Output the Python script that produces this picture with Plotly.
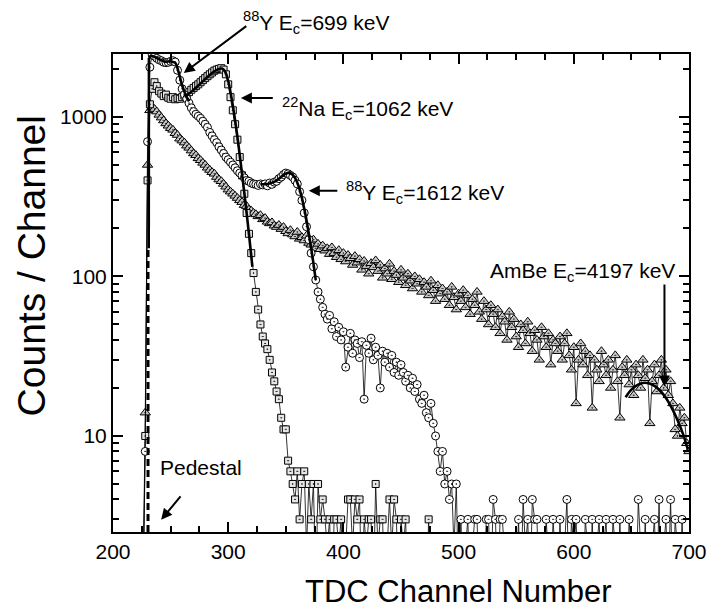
import math
import plotly.graph_objects as go

# ---------------- data ----------------
channels = list(range(226, 702, 2))

y88_counts = [
    1, 8, 700, 2050, 2450, 2400, 2330, 2280, 2250, 2200,
    2190, 2200, 2230, 2250, 2210, 1960, 1700, 1500, 1380, 1300,
    1220, 1140, 1080, 1040, 1010, 980, 940, 900, 860, 800,
    760, 720, 690, 650, 620, 590, 560, 540, 520, 500,
    480, 460, 445, 430, 415, 400, 395, 385, 380, 378,
    372, 380, 375, 380, 370, 385, 378, 390, 395, 410,
    420, 435, 445, 440, 430, 420, 400, 380, 340, 300,
    250, 205, 170, 140, 115, 95, 80, 72, 64, 58,
    54, 57, 47, 52, 42, 48, 40, 45, 27, 36,
    44, 33, 40, 38, 31, 39, 17, 37, 33, 41,
    30, 36, 32, 20, 34, 29, 33, 27, 32, 25,
    29, 24, 28, 25, 22, 24, 20, 23, 19, 21,
    17, 16, 18, 14, 13, 16, 12, 10, 8, 6,
    8, 5, 6, 4, 5, 2, 5, 1, 3, 1,
    2, 3, 1, 2, 3, 3, 1, 2, 1, 3,
    3, 1, 4, 3, 1, 3, 3, 2, 1, 2,
    1, 2, 1, 3, 1, 4, 2, 3, 1, 4,
    3, 3, 1, 2, 1, 3, 2, 1, 3, 2,
    1, 3, 1, 2, 4, 1, 3, 2, 3, 1,
    2, 1, 3, 2, 1, 3, 1, 2, 3, 1,
    2, 3, 1, 1, 3, 2, 1, 3, 1, 2,
    1, 3, 2, 1, 1, 4, 2, 1, 3, 1,
    1, 2, 3, 1, 4, 1, 2, 3, 1, 4,
    1, 3, 2, 1, 3, 1, 2, 1,
]

na22_counts = [
    1, 10, 400, 1200, 1500, 1650, 1560, 1450, 1400, 1350,
    1380, 1320, 1300, 1330, 1290, 1310, 1300, 1330, 1360, 1400,
    1430, 1480, 1520, 1560, 1600, 1650, 1700, 1750, 1800, 1850,
    1900, 1950, 1980, 2000, 2020, 1980, 1850, 1600, 1330, 1100,
    900, 720, 560, 430, 330, 250, 185, 140, 105, 80,
    62, 50, 42, 38, 35, 30, 25, 22, 19, 17,
    13, 11, 11, 7, 6, 5, 4, 6, 3, 5,
    6, 2, 5, 3, 5, 1, 5, 3, 4, 3,
    2, 3, 1, 3, 3, 2, 3, 1, 2, 4,
    4, 2, 4, 3, 4, 1, 3, 2, 3, 3,
    1, 5, 2, 3, 3, 1, 2, 4, 2, 4,
    3, 1, 3, 2, 3, 1, 2, 1, 2, 1,
    1, 2, 1, 1, 3, 1, 2, 1, 1, 1,
]

ambe_counts = [
    1, 14, 500, 1100, 1150, 1120, 1080, 1030, 990, 950,
    910, 880, 850, 830, 790, 770, 730, 710, 690, 660,
    640, 615, 590, 575, 550, 535, 515, 500, 480, 465,
    450, 440, 420, 405, 395, 380, 365, 350, 340, 330,
    320, 310, 300, 292, 280, 276, 262, 258, 250, 245,
    238, 242, 228, 232, 220, 215, 218, 208, 204, 210,
    198, 204, 192, 186, 195, 183, 178, 190, 172, 176,
    168, 180, 162, 158, 170, 150, 160, 148, 156, 145,
    150, 138, 152, 140, 132, 146, 128, 140, 124, 136,
    130, 118, 134, 122, 128, 110, 125, 116, 104, 121,
    114, 126, 108, 118, 98, 112, 104, 120, 96, 108,
    102, 92, 110, 98, 88, 104, 94, 84, 100, 90,
    96, 80, 92, 86, 76, 94, 82, 70, 88, 78,
    84, 72, 80, 66, 86, 74, 62, 78, 70, 82,
    64, 76, 58, 72, 66, 80, 60, 54, 70, 62,
    50, 66, 58, 48, 62, 44, 56, 52, 40, 60,
    48, 54, 42, 36, 50, 46, 38, 52, 44, 34,
    46, 40, 30, 48, 42, 36, 44, 28, 40, 38,
    34, 42, 30, 38, 44, 32, 26, 36, 16, 30,
    38, 28, 34, 24, 32, 15, 30, 26, 22, 34,
    28, 24, 30, 20, 26, 32, 22, 13, 27, 24,
    30, 21, 26, 18, 28, 24, 20, 30, 23, 26,
    12, 22, 28, 19, 24, 30, 20, 26, 18, 22,
    16, 11, 10, 15, 12, 13, 9, 8,
]

# fitted curves
rise_fit_x = [231.0, 231.2]
rise_fit_y = [150, 2350]
y699_fit_x = [231.2, 233, 236, 240, 245, 250, 254, 257, 260, 263, 266]
y699_fit_y = [2350, 2420, 2380, 2300, 2220, 2230, 2180, 1900, 1580, 1380, 1250]
na_fit_x = [262, 266, 270, 276, 282, 288, 292, 294.5, 297, 300, 303, 306, 309, 312, 315, 318, 321]
na_fit_y = [1340, 1400, 1480, 1620, 1780, 1930, 2000, 2010, 1940, 1680, 1300, 950, 660, 440, 290, 185, 115]
y1612_fit_x = [328, 334, 340, 345, 349, 352, 355, 358, 361, 364, 367, 370, 373, 376]
y1612_fit_y = [378, 380, 392, 415, 438, 446, 440, 415, 370, 310, 245, 185, 135, 95]
ambe_fit_x = [645, 650, 655, 660, 665, 670, 675, 680, 685, 690, 695, 699]
ambe_fit_y = [17.5, 19.5, 20.8, 21.5, 21.4, 20.6, 19.2, 17.3, 15.0, 12.6, 10.2, 8.2]
pedestal_x = [230.4, 230.4]
pedestal_y = [2.5, 150]

x_ticks = [200, 300, 400, 500, 600, 700]
y_ticks = [10, 100, 1000]
y_minor = [3, 4, 5, 6, 7, 8, 9, 20, 30, 40, 50, 60, 70, 80, 90,
           200, 300, 400, 500, 600, 700, 800, 900, 2000]

FONT = "Liberation Sans, Arial, Helvetica, sans-serif"

fig = go.Figure()

def series(x, y, symbol, fill, size):
    fig.add_trace(go.Scatter(
        x=x, y=y, mode="lines+markers",
        line=dict(color="black", width=0.8),
        marker=dict(symbol=symbol, size=size, color=fill,
                    line=dict(color="black", width=1)),
        showlegend=False, cliponaxis=True))

series(channels[:len(ambe_counts)], ambe_counts, "triangle-up-dot", "#c8c8c8", 9)
series(channels[:len(na22_counts)], na22_counts, "square-dot", "#e6e6e6", 7)
series(channels[:len(y88_counts)], y88_counts, "circle-dot", "white", 8)

def fit(x, y, shape="spline", dash="solid", width=2.6):
    fig.add_trace(go.Scatter(
        x=x, y=y, mode="lines",
        line=dict(color="black", width=width, shape=shape, dash=dash),
        showlegend=False))

fit(pedestal_x, pedestal_y, shape="linear", dash="7px,4px", width=3)
fit(rise_fit_x, rise_fit_y, shape="linear")
fit(y699_fit_x, y699_fit_y)
fit(na_fit_x, na_fit_y)
fit(y1612_fit_x, y1612_fit_y)
fit(ambe_fit_x, ambe_fit_y)

L = math.log10
ann_font = dict(family=FONT, size=21, color="black")

def label(x, y, text, xanchor="left"):
    fig.add_annotation(x=x, y=L(y), xref="x", yref="y", text=text,
                       showarrow=False, xanchor=xanchor, yanchor="middle",
                       font=ann_font)

def arrow(x0, y0, x1, y1):
    fig.add_annotation(x=x1, y=L(y1), ax=x0, ay=L(y0), xref="x", yref="y",
                       axref="x", ayref="y", text="", showarrow=True,
                       arrowhead=2, arrowsize=1.1, arrowwidth=2,
                       arrowcolor="black")

# frame spans x 113..699 px, y 54..532 px
def px_x(p):
    return (p - 113) / 586

def px_y(p):
    return (532 - p) / 478

fig.add_annotation(x=px_x(243), y=px_y(22), xref="paper", yref="paper",
                   text="<sup>88</sup>Y E<sub>c</sub>=699 keV",
                   showarrow=False, xanchor="left", yanchor="middle",
                   font=ann_font)
arrow(317, 3770, 261.4, 1886)
label(345, 1122, "<sup>22</sup>Na E<sub>c</sub>=1062 keV")
arrow(340, 1315, 311, 1315)
label(400.5, 334, "<sup>88</sup>Y E<sub>c</sub>=1612 keV")
arrow(396, 344, 370, 344)
label(690, 107, "AmBe E<sub>c</sub>=4197 keV", xanchor="right")
arrow(678.7, 91, 678.7, 20.4)
label(276.8, 6.3, "Pedestal", xanchor="center")
arrow(259.7, 4.27, 241.8, 2.98)

# axis titles (positioned as in the reference, not centred on the frame)
fig.add_annotation(x=px_x(464), y=px_y(591), xref="paper", yref="paper",
                   text="TDC Channel Number", showarrow=False,
                   xanchor="center", yanchor="middle",
                   font=dict(family=FONT, size=31, color="black"))
fig.add_annotation(x=px_x(30), y=px_y(266), xref="paper", yref="paper",
                   text="Counts / Channel", showarrow=False, textangle=-90,
                   xanchor="center", yanchor="middle",
                   font=dict(family=FONT, size=39, color="black"))

fig.update_layout(
    width=719, height=611,
    margin=dict(l=113, r=20, t=54, b=79),
    paper_bgcolor="white", plot_bgcolor="white",
    font=dict(family=FONT, color="black", size=21),
    showlegend=False,
)

fig.update_xaxes(
    range=[200, 700], tickmode="array", tickvals=x_ticks,
    ticks="inside", ticklen=10, tickwidth=1.5, tickcolor="black",
    minor=dict(dtick=25, tick0=200, ticks="inside", ticklen=6,
               tickwidth=1.5, tickcolor="black"),
    showline=True, linewidth=2, linecolor="black", mirror="ticks",
    showgrid=False, zeroline=False,
    tickfont=dict(family=FONT, size=21),
)
fig.update_yaxes(
    type="log", range=[L(2.5), L(2480)], tickmode="array", tickvals=y_ticks,
    ticktext=[str(v) for v in y_ticks],
    ticks="inside", ticklen=10, tickwidth=1.5, tickcolor="black",
    minor=dict(tickmode="array", tickvals=y_minor, ticks="inside",
               ticklen=6, tickwidth=1.5, tickcolor="black"),
    showline=True, linewidth=2, linecolor="black", mirror="ticks",
    showgrid=False, zeroline=False,
    tickfont=dict(family=FONT, size=21),
)

fig.write_html("out.html")
